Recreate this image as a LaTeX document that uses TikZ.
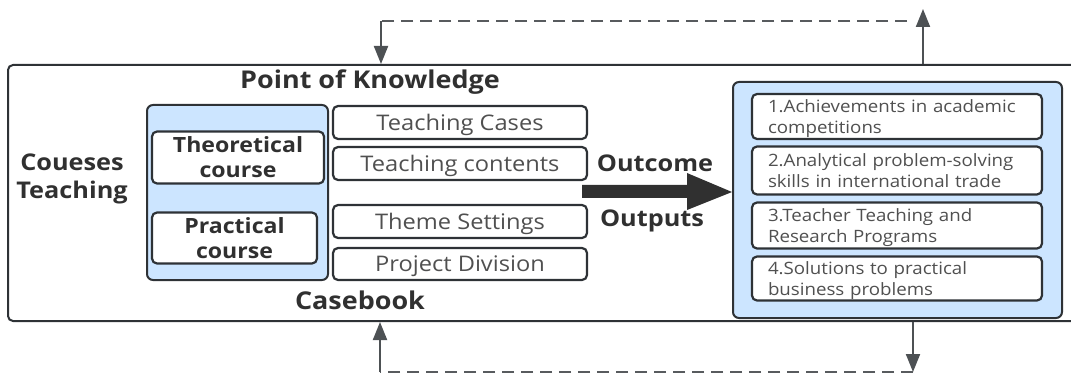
\documentclass[tikz,border=0pt]{standalone}
\usepackage{fontspec}
\setmainfont{Open Sans}[FakeStretch=1.1]
\usetikzlibrary{arrows.meta}
\definecolor{lblue}{HTML}{CCE5FF}
\definecolor{edge}{HTML}{2E3236}
\definecolor{txt}{HTML}{505050}
\definecolor{btxt}{HTML}{303030}
\begin{document}
\begin{tikzpicture}[x=1pt,y=-1pt,
  box/.style={draw=edge,line width=2.2pt,rounded corners=5pt,inner sep=0pt,fill=white},
  bluebox/.style={draw=edge,line width=2pt,rounded corners=6pt,inner sep=0pt,fill=lblue},
  plain/.style={font=\fontsize{21.5}{24}\selectfont,text=txt,text depth=0pt},
  bold/.style={font=\fontsize{23}{28}\selectfont\bfseries,text=btxt,align=center},
  bigbold/.style={bold,font=\fontsize{24.5}{28}\selectfont\bfseries},
  inbold/.style={bold,font=\fontsize{21}{25}\selectfont\bfseries,text depth=0pt},
  item/.style={box,text width=258pt,align=left,font=\fontsize{17}{21}\selectfont,text=txt,inner xsep=16pt,text depth=20pt},
  conn/.style={draw=edge!85,line width=2pt},
  tip/.style={-{Triangle[length=18pt,width=14pt]}},
  dashline/.style={draw=edge!80,line width=2.4pt,dash pattern=on 12pt off 7pt}
]
\useasboundingbox (0,0) rectangle (1071,374);
% outer frame
\node[draw=edge,line width=2pt,rounded corners=5pt,minimum width=1072pt,minimum height=256pt,inner sep=0pt] (outer) at (544,193) {};
% left part
\node[bigbold] (pok) at (370,82) {Point of Knowledge};
\node[bold] (ct) at (72,179) {Coueses\\Teaching};
\node[bluebox,minimum width=181pt,minimum height=175pt] (lb) at (237.5,192.5) {};
\node[box,minimum width=172pt,minimum height=52pt,inbold] (theo) at (238,157.5) {Theoretical\\course};
\node[box,minimum width=165pt,minimum height=51pt,inbold] (prac) at (234.5,238) {Practical\\course};
\node[box,minimum width=254pt,minimum height=33pt,plain] (tc) at (460,122.5) {Teaching Cases};
\node[box,minimum width=254pt,minimum height=33pt,plain] (tco) at (460,163.5) {Teaching contents};
\node[box,minimum width=254pt,minimum height=33pt,plain] (ts) at (460,221.5) {Theme Settings};
\node[box,minimum width=254pt,minimum height=32pt,plain] (pd) at (460,264) {Project Division};
\node[bigbold] (cb) at (360,300) {Casebook};
% outcome labels and arrow
\node[bold] (oc) at (655,163) {Outcome};
\node[bold] (op) at (652,221) {Outputs};
\node[bluebox,minimum width=329pt,minimum height=236pt] (rb) at (897.5,200) {};
\fill[btxt] (582,185) -- (687,185) -- (687,173) -- (rb.west |- 0,192) -- (687,210) -- (687,198) -- (582,198) -- cycle;
% items
\node[item,minimum height=45pt] (i1) at (897,116.5) {1.Achievements in academic\\competitions};
\node[item,minimum height=48pt] (i2) at (897,170.5) {2.Analytical problem-solving\\skills in international trade};
\node[item,minimum height=46pt] (i3) at (897,225.5) {3.Teacher Teaching and\\Research Programs};
\node[item,minimum height=44pt] (i4) at (897,278.5) {4.Solutions to practical\\business problems};
% feedback connectors
\coordinate (tl) at (381,21);
\coordinate (tr) at (923,21);
\coordinate (bl) at (380,372);
\coordinate (br) at (913,372);
\draw[conn,tip] (outer.north -| tr) -- (923,9);
\draw[dashline] (907,21) -- (tl);
\draw[conn,tip] (tl) -- (tl |- outer.north);
\draw[conn,tip] (outer.south -| br) -- (br);
\draw[dashline] (br) -- (bl);
\draw[conn,tip] (bl) -- (bl |- outer.south);
\end{tikzpicture}
\end{document}
